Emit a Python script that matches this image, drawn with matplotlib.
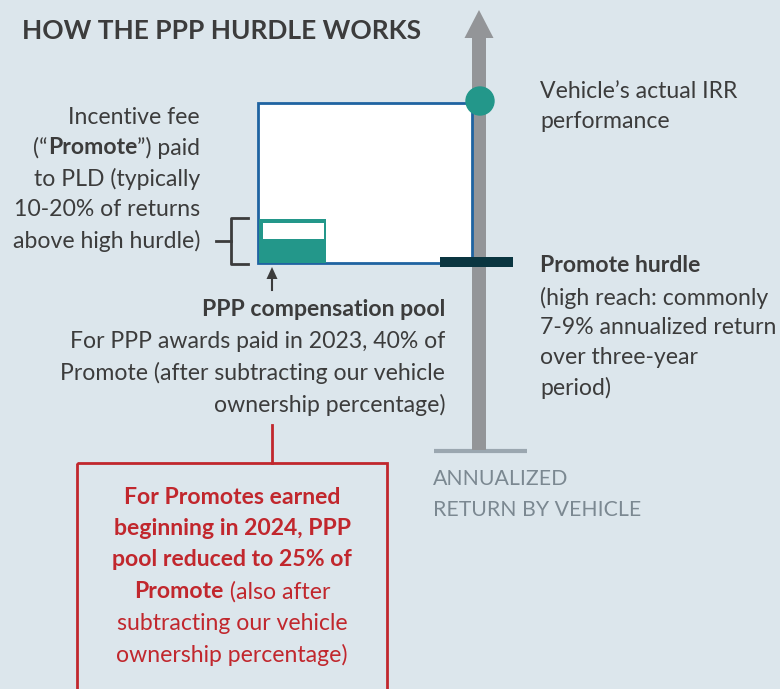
import matplotlib.pyplot as plt
from matplotlib.patches import Rectangle, Circle, FancyArrow, Polygon

plt.rcParams['font.family'] = ['Lato', 'DejaVu Sans']

title = "HOW THE PPP HURDLE WORKS"
fee_lines = [
    [("Incentive fee", False)],
    [("(\u201c", False), ("Promote", True), ("\u201d) paid", False)],
    [("to PLD (typically", False)],
    [("10-20% of returns", False)],
    [("above high hurdle)", False)],
]
irr_lines = ["Vehicle\u2019s actual IRR", "performance"]
hurdle_head = "Promote hurdle"
hurdle_lines = ["(high reach: commonly", "7-9% annualized return", "over three-year", "period)"]
pool_head = "PPP compensation pool"
pool_lines = ["For PPP awards paid in 2023, 40% of",
              "Promote (after subtracting our vehicle",
              "ownership percentage)"]
axis_lines = ["ANNUALIZED", "RETURN BY VEHICLE"]
red_lines = [
    [("For Promotes earned", True)],
    [("beginning in 2024, PPP", True)],
    [("pool reduced to 25% of", True)],
    [("Promote", True), (" (also after", False)],
    [("subtracting our vehicle", False)],
    [("ownership percentage)", False)],
]

BG = '#DCE6EC'
DARK = '#3C3C3C'
GRAY = '#939598'
TEAL = '#23978A'
BLUE = '#1F63A1'
RED = '#C1272D'
FS = 16.6

fig = plt.figure(figsize=(7.8, 6.89), dpi=100, facecolor=BG)
ax = fig.add_axes([0, 0, 1, 1])
ax.set_xlim(0, 780)
ax.set_ylim(689, 0)
ax.axis('off')
ax.set_facecolor(BG)
renderer = fig.canvas.get_renderer()


def rich_line(x, y, runs, ha='left', color=DARK, size=FS):
    objs = []
    for s, b in runs:
        objs.append(ax.text(0, y, s, fontsize=size, color=color, va='center', ha='left',
                            fontweight='bold' if b else 'normal', zorder=8))
    widths = [t.get_window_extent(renderer).width for t in objs]
    total = sum(widths)
    start = {'left': x, 'right': x - total, 'center': x - total / 2}[ha]
    for t, w in zip(objs, widths):
        t.set_x(start)
        start += w


# vertical return axis
ax.add_patch(FancyArrow(479, 450, 0, -440, width=14, head_width=29, head_length=28,
                        length_includes_head=True, color=GRAY, lw=0, zorder=2))
ax.plot([434, 527], [451, 451], color='#9BA7B0', lw=3, solid_capstyle='butt', zorder=1)

# return box
ax.add_patch(Rectangle((258, 103), 214, 160, facecolor='white', edgecolor=BLUE, lw=2, zorder=3))
ax.add_patch(Rectangle((259, 219), 67, 44, facecolor=TEAL, edgecolor='none', zorder=4))
ax.add_patch(Rectangle((263, 223), 61, 16, facecolor='white', edgecolor='none', zorder=5))
ax.add_patch(Circle((480, 101), 14, color=TEAL, zorder=6))
ax.add_patch(Rectangle((440, 257), 73, 10, facecolor='#0A3540', edgecolor='none', zorder=6))

# bracket
ax.plot([248, 231, 231, 248], [218, 218, 264, 264], color=DARK, lw=2, zorder=3)
ax.plot([216, 231], [241, 241], color=DARK, lw=2, zorder=3)
ax.plot([272, 272], [276, 290], color=DARK, lw=1.5, zorder=3)
ax.add_patch(Polygon([(272, 267), (266.5, 279), (277.5, 279)], closed=True,
                     facecolor=DARK, edgecolor='none', zorder=3))

ax.text(22, 31, title, fontsize=19, fontweight='bold', color=DARK, va='center', ha='left')

for i, runs in enumerate(fee_lines):
    rich_line(200, 117 + i * 31, runs, ha='right')
for i, s in enumerate(irr_lines):
    rich_line(540, 92 + i * 30, [(s, False)])
rich_line(540, 266, [(hurdle_head, True)])
for i, s in enumerate(hurdle_lines):
    rich_line(540, 298 + i * 30, [(s, False)])
rich_line(445, 309, [(pool_head, True)], ha='right')
for i, s in enumerate(pool_lines):
    rich_line(445, 341 + i * 32, [(s, False)], ha='right')
for i, s in enumerate(axis_lines):
    rich_line(433, 479 + i * 31, [(s, False)], color='#7B8891', size=15.3)

# red callout
ax.plot([272, 272], [425, 463], color=RED, lw=2, zorder=3)
ax.add_patch(Rectangle((77, 463), 310, 240, facecolor='none', edgecolor=RED, lw=2, zorder=3))
for i, runs in enumerate(red_lines):
    rich_line(232, 497 + i * 31.5, runs, ha='center', color=RED)

fig.savefig('out.png', dpi=100, facecolor=BG)
